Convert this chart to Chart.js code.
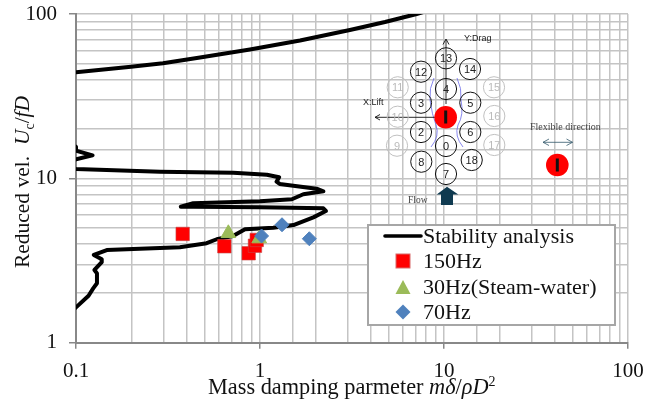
<!DOCTYPE html>
<html>
<head>
<meta charset="utf-8">
<script src="https://cdn.jsdelivr.net/npm/chart.js@4"></script>
<style>
  html, body { margin: 0; padding: 0; background: #fff; }
  #wrap { position: relative; width: 646px; height: 405px; overflow: hidden; font-family: "Liberation Serif", serif; color: #111; }
  #chart { position: absolute; left: 0; top: 0; }
  #inset { position: absolute; left: 0; top: 0; }
  .axis-title { position: absolute; white-space: nowrap; line-height: 22px; }
  #xTitle { left: 208px; top: 376px; font-size: 22.3px; }
  #yTitle { left: 22px; top: 182px; font-size: 21.5px; transform: translate(-50%, -50%) rotate(-90deg); }
  sup, sub { font-size: 14px; line-height: 0; }
  #legend { position: absolute; left: 367px; top: 224px; width: 245px; height: 98px; background: #fff; border: 2px solid #a6a6a6; }
  .row { position: absolute; left: 0; height: 26px; line-height: 26px; font-size: 22px; white-space: nowrap; }
  .row svg { position: absolute; left: 14px; top: 0; }
  .row span { position: absolute; left: 54px; }
</style>
</head>
<body>
<div id="wrap">
  <canvas id="chart" width="646" height="405"></canvas>
  <svg id="inset" width="646" height="405" font-family="Liberation Sans, sans-serif"></svg>
  <div id="legend"></div>
  <div class="axis-title" id="xTitle">Mass damping parmeter <i>m&delta;</i>/<i>&rho;D</i><sup>2</sup></div>
  <div class="axis-title" id="yTitle">Reduced vel.&nbsp; <i>U</i><sub>c</sub>/<i>fD</i></div>
</div>
<script>
// tick labels
const xTickLabels = [0.1, 1, 10, 100];
const yTickLabels = [1, 10, 100];

// stability curve. null y breaks the line
const curveX = [0.09, 0.1, 0.117, 0.124, 0.13, 0.13, 0.126, 0.138, 0.138, 0.125, 0.147, 0.367, 0.513, 0.582, 0.713, 0.829,
  1.18, 1.52, 1.95, 2.28, 2.21, 1.0, 0.434, 0.371, 0.434, 1.0, 1.49, 1.72, 2.21, 2.03, 1.28, 1.23, 1.27, 1.09, 0.716, 0.286,
  0.1, 0.09, 0.09, 0.1, 0.123, 0.1, 0.1, 0.09,
  0.09,
  0.1, 0.199, 0.297, 0.472, 0.882, 1.65, 3.08, 4.78, 7.1, 8];
const curveY = [1.5, 1.64, 1.93, 2.14, 2.3, 2.64, 2.77, 3.09, 3.22, 3.42, 3.66, 3.81, 4.03, 4.26, 4.46, 4.9,
  5.01, 5.2, 5.79, 6.33, 6.57, 6.67, 6.72, 6.72, 7.05, 7.25, 7.46, 8.0, 8.34, 8.65, 9.24, 9.54, 10.15, 10.52, 10.82, 10.98,
  11.4, 11.7, 12.6, 13.06, 13.81, 14.73, 15.58, 16.5,
  null,
  44.2, 47.8, 50.1, 54.4, 60.8, 69, 79.9, 89.4, 100, 104];

const hz150X = [0.38, 0.64, 0.868, 0.939, 0.96];
const hz150Y = [4.59, 3.86, 3.5, 3.89, 4.22];
const hz30X = [0.673, 0.99];
const hz30Y = [4.63, 4.3];
const hz70X = [1.02, 1.317, 1.854];
const hz70Y = [4.46, 5.22, 4.29];

const seriesNames = ['Stability analysis', '150Hz', '30Hz(Steam-water)', '70Hz'];

function toPoints(xs, ys) {
  return xs.map((x, i) => ({ x: x, y: ys[i] }));
}

const gridColor = '#c4c4c4';
const axisColor = '#888888';
const font = { family: '"Liberation Serif", serif', size: 21 };

new Chart(document.getElementById('chart').getContext('2d'), {
  type: 'scatter',
  data: {
    datasets: [
      {
        label: seriesNames[0], data: toPoints(curveX, curveY), showLine: true, order: 4,
        borderColor: '#000', borderWidth: 4, pointRadius: 0,
        borderJoinStyle: 'round', borderCapStyle: 'round', spanGaps: false
      },
      {
        label: seriesNames[1], data: toPoints(hz150X, hz150Y), order: 3,
        pointStyle: 'rect', pointRadius: 9.5, pointBackgroundColor: '#ff0000',
        pointBorderColor: 'rgba(200,70,70,0.6)', pointBorderWidth: 1
      },
      {
        label: seriesNames[2], data: toPoints(hz30X, hz30Y), order: 2,
        pointStyle: 'triangle', pointRadius: 8.5, pointBackgroundColor: '#9bbb59',
        pointBorderColor: '#9bbb59', pointBorderWidth: 1
      },
      {
        label: seriesNames[3], data: toPoints(hz70X, hz70Y), order: 1,
        pointStyle: 'rectRot', pointRadius: 7, pointBackgroundColor: '#4f81bd',
        pointBorderColor: '#4f81bd', pointBorderWidth: 1
      }
    ]
  },
  options: {
    responsive: false,
    animation: false,
    layout: { padding: { top: 14, right: 18, left: 0, bottom: 0 } },
    plugins: { legend: { display: false }, tooltip: { enabled: false } },
    scales: {
      x: {
        type: 'logarithmic', min: 0.1, max: 100,
        afterFit: s => { s.height = 62.3; s.paddingLeft = 0; s.paddingRight = 0; },
        grid: {
          color: gridColor, lineWidth: 1.5, tickLength: 6,
          tickColor: c => xTickLabels.includes(c.tick.value) ? axisColor : 'transparent'
        },
        border: { color: axisColor, width: 2 },
        ticks: {
          color: '#111', font: font, autoSkip: false, maxRotation: 0, padding: 10,
          callback: v => xTickLabels.includes(v) ? String(v) : ''
        }
      },
      y: {
        type: 'logarithmic', min: 1, max: 100,
        afterFit: s => { s.width = 76; s.paddingTop = 0; s.paddingBottom = 0; },
        grid: {
          color: gridColor, lineWidth: 1.5, tickLength: 7,
          tickColor: c => yTickLabels.includes(c.tick.value) ? axisColor : 'transparent'
        },
        border: { color: axisColor, width: 2 },
        ticks: {
          color: '#111', font: font, autoSkip: false, padding: 12,
          callback: v => yTickLabels.includes(v) ? String(v) : ''
        }
      }
    }
  }
});

// legend box
const legendMarks = [
  '<line x1="2" y1="13" x2="38" y2="13" stroke="#000" stroke-width="3.6" stroke-linecap="round"/>',
  '<rect x="13" y="6" width="14" height="14" fill="#ff0000" stroke="#d86a6a" stroke-width="1"/>',
  '<polygon points="20,6 27.5,20 12.5,20" fill="#9bbb59"/>',
  '<polygon points="20,5.5 27.5,13 20,20.5 12.5,13" fill="#4f81bd"/>'
];
const rowTops = [-3, 22, 48, 73];
document.getElementById('legend').innerHTML = seriesNames.map((name, i) =>
  `<div class="row" style="top:${rowTops[i]}px"><svg width="40" height="26">${legendMarks[i]}</svg><span>${name}</span></div>`
).join('');

// tube bundle sketch (schematic, not data)
const tubes = [
  ['13', 446, 58.3, 1], ['12', 421, 71.7, 1], ['14', 470, 69, 1], ['4', 446, 89, 1],
  ['3', 421, 102.7, 1], ['5', 470.3, 102.7, 1], ['2', 421, 132, 1], ['6', 470.3, 132, 1],
  ['0', 446, 146, 1], ['8', 421.3, 161.7, 1], ['18', 471.7, 160, 1], ['7', 446, 174, 1],
  ['11', 397.7, 87.3, 0], ['15', 494, 87.3, 0], ['10', 397.7, 116.7, 0], ['16', 494.3, 116, 0],
  ['9', 397, 145.7, 0], ['17', 494.3, 145, 0]
];
let s = '';
s += '<path d="M431 147 Q440 136 436 125 Q432 115 430 100 Q429 88 434 78" fill="none" stroke="#6a6ae8" stroke-width="0.8"/>';
s += '<path d="M463 147 Q454 136 458 125 Q464 115 461 100 Q462 88 457 78" fill="none" stroke="#6a6ae8" stroke-width="0.8"/>';
s += '<path d="M446 104V40M443 44.5L446 39L449 44.5" fill="none" stroke="#111" stroke-width="0.9"/>';
s += '<path d="M435 117.3H375M380 114.5L375 117.3L380 120" fill="none" stroke="#111" stroke-width="0.9"/>';
tubes.forEach(t => {
  const col = t[3] ? '#111' : '#c0c0c0';
  s += `<circle cx="${t[1]}" cy="${t[2]}" r="10.6" fill="none" stroke="${col}" stroke-width="1"/>`;
  s += `<text x="${t[1]}" y="${t[2] + 3.8}" font-size="11" text-anchor="middle" fill="${t[3] ? '#222' : '#bbb'}">${t[0]}</text>`;
});
s += '<circle cx="445.7" cy="117.3" r="11.3" fill="#ff0000"/><rect x="444.2" y="110.5" width="3" height="13" fill="#111"/>';
s += '<circle cx="557.3" cy="165" r="11.3" fill="#ff0000"/><rect x="555.8" y="158.5" width="3" height="13" fill="#111"/>';
s += '<text x="464" y="40.5" font-size="9" fill="#222">Y:Drag</text>';
s += '<text x="363" y="105" font-size="9" fill="#222">X:Lift</text>';
s += '<text x="530" y="129.5" font-size="10" fill="#444" font-family="Liberation Serif, serif">Flexible direction</text>';
s += '<text x="408" y="203" font-size="9.5" fill="#444" font-family="Liberation Serif, serif">Flow</text>';
s += '<path d="M543 142.3H572.5M549 139L543 142.3L549 145.5M566.5 139L572.5 142.3L566.5 145.5" fill="none" stroke="#34596b" stroke-width="0.8"/>';
s += '<polygon points="447,186.7 458.3,194.5 453,194.5 453,205 441,205 441,194.5 436.7,194.5" fill="#0f3a50"/>';
document.getElementById('inset').innerHTML = s;
</script>
</body>
</html>
